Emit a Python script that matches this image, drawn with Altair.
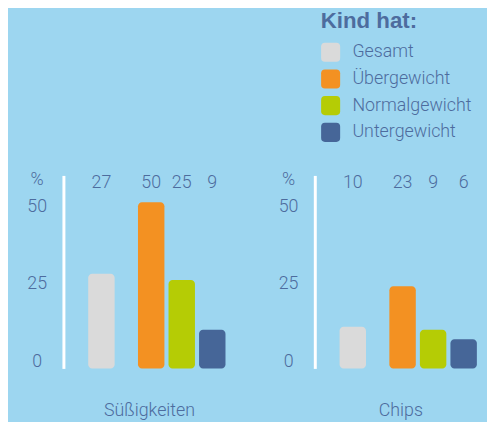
import altair as alt
import pandas as pd

panels = ["Süßigkeiten", "Chips"]
groups = ["Gesamt", "Übergewicht", "Normalgewicht", "Untergewicht"]
suess = [27, 50, 25, 9]
chips = [10, 23, 9, 6]
colors = ["#dadada", "#f39122", "#b5cc05", "#466698"]
y_ticks = [0, 25, 50]

BG = "#9dd6f0"
TEXT = "#4d6c9e"
FONT = "Roboto"
FS = 18

rows = []
for p, vals in zip(panels, [suess, chips]):
    for g, v in zip(groups, vals):
        rows.append({"panel": p, "group": g, "value": v})
df = pd.DataFrame(rows)

BASE = -3.4
TOP = 58.6
LABEL_ROW = 56.2

ROUNDED = ("M -1 -0.6 Q -1 -1 -0.6 -1 L 0.6 -1 Q 1 -1 1 -0.6 L 1 0.6 "
           "Q 1 1 0.6 1 L -0.6 1 Q -1 1 -1 0.6 Z")

y_scale = alt.Scale(domain=[BASE, TOP], nice=False, zero=False)
y_axis = alt.Axis(values=y_ticks, title="%", titleAngle=0, titleX=-27, titleY=4,
                  titleAlign="center", titleBaseline="middle", titleFontSize=FS,
                  titleFontWeight=300, titleColor=TEXT, titleFont=FONT,
                  domainColor="white", domainWidth=3, ticks=False, grid=False,
                  labelAlign="center", labelPadding=27, labelFontSize=FS,
                  labelColor=TEXT, labelFont=FONT, labelFontWeight=300,
                  labelOffset=4, labelFlush=False, labelBaseline="middle")
color_enc = alt.Color("group:N", scale=alt.Scale(domain=groups, range=colors),
                      legend=alt.Legend(orient="none", legendX=260, legendY=-167, padding=0,
                                        title="Kind hat:", titleFontSize=22.5, titleFontWeight="bold",
                                        titleColor=TEXT, titleFont="Liberation Sans", titlePadding=10,
                                        labelFontSize=FS, labelColor=TEXT, labelFont=FONT,
                                        labelFontWeight=300, symbolType=ROUNDED, symbolSize=370,
                                        symbolStrokeWidth=0, symbolOpacity=1, rowPadding=7,
                                        labelOffset=12))


def sub_layer(x_scale, keep):
    x_enc = alt.X("group:N", scale=x_scale, axis=None)
    bars = alt.Chart().mark_bar(cornerRadius=4).encode(
        x=x_enc,
        y=alt.Y("value:Q", scale=y_scale, axis=y_axis),
        y2=alt.datum(BASE),
        color=color_enc,
    )
    labels = alt.Chart().mark_text(fontSize=FS, color=TEXT, font=FONT, fontWeight=300,
                                   baseline="middle").encode(
        x=x_enc,
        y=alt.YDatum(LABEL_ROW, scale=y_scale, axis=y_axis),
        text="value:Q",
    )
    return alt.layer(bars, labels).transform_filter(
        alt.FieldOneOfPredicate(field="group", oneOf=keep))


# Gesamt stands alone, the three weight groups sit together (two empty slots before them)
total_scale = alt.Scale(domain=groups[:1], paddingInner=0.6375, paddingOuter=1, align=0.17)
weight_scale = alt.Scale(domain=[" ", "  ", *groups[1:]], paddingInner=0.1345,
                         paddingOuter=0.387, align=0.571)

layer = alt.layer(
    sub_layer(total_scale, groups[:1]),
    sub_layer(weight_scale, groups[1:]),
    data=df,
).resolve_scale(x="independent").properties(width=174, height=195)

chart = layer.facet(
    column=alt.Column("panel:N", sort=panels,
                      header=alt.Header(labelOrient="bottom", title=None, labelFontSize=FS,
                                        labelColor=TEXT, labelFont=FONT, labelFontWeight=300,
                                        labelPadding=45, labelBaseline="alphabetic")),
    spacing=43,
).resolve_axis(y="independent").properties(
    padding={"left": 19, "top": 0, "right": 0, "bottom": 0}
).configure(background=BG, font=FONT).configure_view(stroke=None)

chart.save("out.html", embed_options={"renderer": "svg", "actions": False})
